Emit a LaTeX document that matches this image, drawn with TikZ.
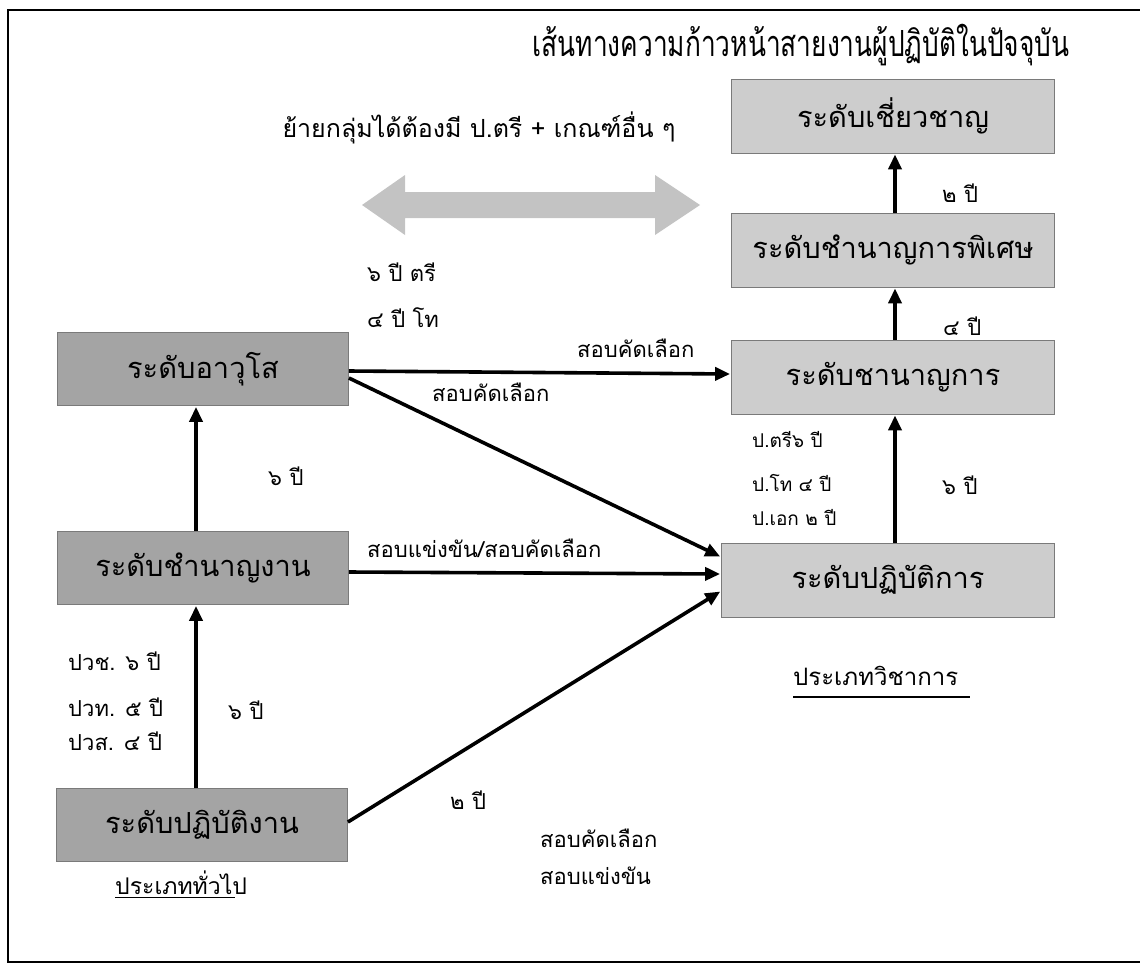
\documentclass[tikz,border=0pt]{standalone}
\usepackage{fontspec}
\setmainfont[Script=Thai]{Loma}
\usetikzlibrary{arrows.meta}
\definecolor{darkbox}{HTML}{A4A4A4}
\definecolor{lightbox}{HTML}{CDCDCD}
\definecolor{boxline}{HTML}{7A7A7A}
\tikzset{
  lbox/.style={draw=boxline, line width=0.8pt, fill=darkbox, minimum width=291pt, minimum height=73pt, inner sep=0pt, font=\fontsize{29}{33}\selectfont},
  rbox/.style={draw=boxline, line width=0.8pt, fill=lightbox, minimum width=323pt, minimum height=74pt, inner sep=0pt, font=\fontsize{29}{33}\selectfont},
  conn/.style={line width=3.6pt, -{Triangle[length=15pt,width=13pt]}, shorten >=1pt},
  lab/.style={font=\fontsize{22}{26}\selectfont, inner sep=0pt, anchor=west},
}
\begin{document}
\begin{tikzpicture}[x=1pt,y=-1pt]
\useasboundingbox (0,0) rectangle (1140,975);
% frame
\draw[line width=1.2pt] (1140,10) -- (8,10) -- (8,962) -- (1140,962);
% title
\node[inner sep=0pt] (title) at (801,45) {\scalebox{0.877}[1.2]{\fontsize{30}{34}\selectfont เส้นทางความก้าวหน้าสายงานผู้ปฏิบัติในปัจจุบัน}};
\node[font=\fontsize{25}{29}\selectfont, inner sep=0pt] (move) at (479,128) {ย้ายกลุ่มได้ต้องมี ป.ตรี + เกณฑ์อื่น ๆ};
% gray double arrow
\fill[gray!55, opacity=0.85] (362,205) -- (405,175) -- (405,192) -- (655,192) -- (655,175) -- (700,205) -- (655,235) -- (655,218) -- (405,218) -- (405,235) -- cycle;
% left boxes
\node[lbox] (awuso) at (203,369) {ระดับอาวุโส};
\node[lbox] (chamnanngan) at (203,568) {ระดับชำนาญงาน};
\node[lbox] (patibatingan) at (202,825) {ระดับปฏิบัติงาน};
% right boxes
\node[rbox] (chiaochan) at (893,116) {ระดับเชี่ยวชาญ};
\node[rbox] (phiset) at (893,250) {ระดับชำนาญการพิเศษ};
\node[rbox] (chamnankan) at (893,377) {ระดับชานาญการ};
\node[rbox, minimum width=333pt] (patibatikan) at (888,580) {ระดับปฏิบัติการ};
% connectors left
\draw[conn] (patibatingan.north -| 196,0) -- (chamnanngan.south -| 196,0);
\draw[conn] (chamnanngan.north -| 196,0) -- (awuso.south -| 196,0);
\draw[conn] (awuso.east |- 0,371) -- (chamnankan.west |- 0,374);
\draw[conn] (awuso.east |- 0,378) -- (patibatikan.west |- 0,557);
\draw[conn] (chamnanngan.east |- 0,572) -- (patibatikan.west |- 0,574);
\draw[conn] (patibatingan.east |- 0,822) -- (patibatikan.west |- 0,591);
% connectors right
\draw[conn] (patibatikan.north -| 895,0) -- (chamnankan.south -| 895,0);
\draw[conn] (chamnankan.north -| 895,0) -- (phiset.south -| 895,0);
\draw[conn] (phiset.north -| 895,0) -- (chiaochan.south -| 895,0);
% labels
\node[lab] (l1) at (367,272) {๖ ปี ตรี};
\node[lab] (l2) at (367,318) {๔ ปี โท};
\node[lab] (l3) at (577,348) {สอบคัดเลือก};
\node[lab] (l4) at (432,392) {สอบคัดเลือก};
\node[lab] (l5) at (268,476) {๖ ปี};
\node[lab] (l6) at (367,548) {สอบแข่งขัน/สอบคัดเลือก};
\node[lab] (l7) at (68,661) {ปวช. ๖ ปี};
\node[lab] (l8) at (68,707) {ปวท. ๕ ปี};
\node[lab] (l9) at (68,741) {ปวส. ๔ ปี};
\node[lab] (l10) at (228,710) {๖ ปี};
\node[lab] (l11) at (450,800) {๒ ปี};
\node[lab] (l12) at (540,838) {สอบคัดเลือก};
\node[lab] (l13) at (540,876) {สอบแข่งขัน};
\node[lab] (l14) at (942,193) {๒ ปี};
\node[lab] (l15) at (943,326) {๔ ปี};
\node[lab, font=\fontsize{19}{23}\selectfont] (l16) at (752,440) {ป.ตรี๖ ปี};
\node[lab, font=\fontsize{19}{23}\selectfont] (l17) at (752,483) {ป.โท ๔ ปี};
\node[lab, font=\fontsize{19}{23}\selectfont] (l18) at (752,517) {ป.เอก ๒ ปี};
\node[lab] (l19) at (942,485) {๖ ปี};
% group labels
\node[lab, font=\fontsize{23}{27}\selectfont] (gen) at (115,883) {ประเภททั่วไป};
\draw[line width=1pt] (115,897) -- (235,897);
\node[lab, font=\fontsize{24}{28}\selectfont] (acad) at (793,676) {ประเภทวิชาการ};
\draw[line width=1.2pt] (793,697) -- (970,697);
\end{tikzpicture}
\end{document}
